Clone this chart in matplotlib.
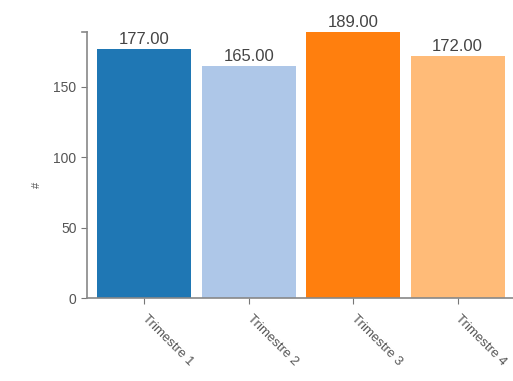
import numpy as np
import matplotlib.pyplot as plt

categories = ['Trimestre 1', 'Trimestre 2', 'Trimestre 3', 'Trimestre 4']
values = [177, 165, 189, 172]
colors = ['#1f77b4', '#aec7e8', '#ff7f0e', '#ffbb78']

plt.rcParams['font.family'] = ['Liberation Sans', 'DejaVu Sans']

W, H = 513, 381
fig = plt.figure(figsize=(W / 100, H / 100), dpi=100)
# axes area in pixels: x 87..515, y 32..298
ax = fig.add_axes([87 / W, 1 - 298 / H, (515 - 87) / W, (298 - 32) / H])

x = np.arange(len(categories))
bars = ax.bar(x, values, width=0.9, color=colors)
for b, v in zip(bars, values):
    ax.annotate('%.2f' % v, (b.get_x() + b.get_width() / 2, v),
                xytext=(0, 1.5), textcoords='offset points',
                ha='center', va='bottom', fontsize=12, color='#444444')

ax.set_xlim(-0.55, len(categories) - 0.45)
ax.set_ylim(0, max(values))
ax.set_yticks([0, 50, 100, 150])
ax.set_xticks(x)
ax.set_xticklabels(categories, rotation=-45, ha='left', va='center',
                   rotation_mode='anchor', fontsize=9.5, color='#555555')
ax.tick_params(axis='y', labelsize=10, labelcolor='#555555', color='#777777',
               length=4.5, pad=3)
ax.tick_params(axis='x', color='#777777', length=4.5, pad=9)

for side in ['top', 'right']:
    ax.spines[side].set_visible(False)
for side in ['left', 'bottom']:
    ax.spines[side].set_color('#888888')
    ax.spines[side].set_linewidth(1.2)

# outer tick at the top of the y axis
ax.plot([-0.012, 0], [1, 1], transform=ax.transAxes, color='#888888',
        lw=1.2, clip_on=False)

fig.text(37 / W, 1 - 185 / H, '#', rotation=90, ha='center', va='center',
         fontsize=8, color='#555555')

fig.savefig('out.png', dpi=100)
